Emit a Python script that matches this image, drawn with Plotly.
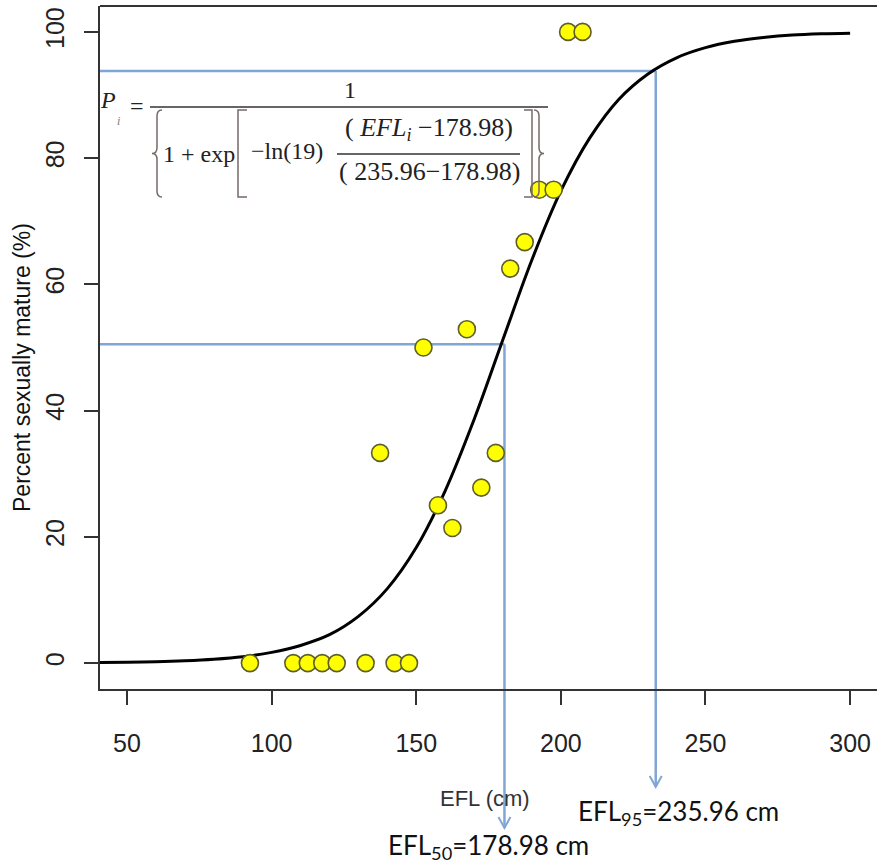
import plotly.graph_objects as go

# ---------------- data ----------------
efl_points = [92.5, 107.5, 112.5, 117.5, 122.5, 132.5, 137.5, 142.5, 147.5, 152.5,
              157.5, 162.5, 167.5, 172.5, 177.5, 182.5, 187.5, 192.5, 197.5, 202.5, 207.5]
pct_mature = [0, 0, 0, 0, 0, 0, 33.3, 0, 0, 50,
              25, 21.4, 52.9, 27.8, 33.3, 62.5, 66.7, 75, 75, 100, 100]

curve_efl = [40, 50, 60, 70, 80, 90, 100, 110, 120, 130, 140, 150, 160, 170, 180,
             190, 200, 210, 220, 230, 240, 250, 260, 270, 280, 290, 300]
curve_pct = [0.08, 0.13, 0.21, 0.36, 0.6, 1.0, 1.7, 2.8, 4.5, 7.4, 11.8, 18.3, 27.3, 38.6, 51.3,
             63.9, 74.8, 83.2, 89.3, 93.3, 95.9, 97.5, 98.5, 99.1, 99.5, 99.7, 99.8]

x_ticks = [50, 100, 150, 200, 250, 300]
y_ticks = [0, 20, 40, 60, 80, 100]

guide_x = [180.5, 232.8]     # where the guide lines drop from the curve
guide_y = [50.5, 93.8]
label_50 = "EFL<sub>50</sub>=178.98 cm"
label_95 = "EFL<sub>95</sub>=235.96 cm"

X_RANGE = [40.66, 309.3]
Y_RANGE = [-4.1, 104.1]

# ---------------- layout helpers ----------------
W, H = 877, 865
ML, MR, MT, MB = 100, 0, 6, 176
PW = W - ML - MR
PH = H - MT - MB


def PX(px):
    return (px - ML) / PW


def PY(py):
    return (H - MB - py) / PH


def DX(v):
    return (v - X_RANGE[0]) / (X_RANGE[1] - X_RANGE[0])


def DY(v):
    return (v - Y_RANGE[0]) / (Y_RANGE[1] - Y_RANGE[0])


def path_px(cmds):
    out = []
    for c in cmds:
        if isinstance(c, str):
            out.append(c)
        else:
            out.append(f"{PX(c[0]):.5f},{PY(c[1]):.5f}")
    return " ".join(out)


fig = go.Figure()

fig.add_trace(go.Scatter(x=curve_efl, y=curve_pct, mode="lines",
                         line=dict(color="black", width=3, shape="spline"),
                         hoverinfo="skip"))
fig.add_trace(go.Scatter(x=efl_points, y=pct_mature, mode="markers",
                         marker=dict(size=17, color="#ffff00",
                                     line=dict(color="#5e5e2a", width=1.6)),
                         cliponaxis=False))

shapes = []
BLUE = "#80a6d6"
tips = [828, 787]
for gx, gy, tip in zip(guide_x, guide_y, tips):
    shapes.append(dict(type="line", xref="paper", yref="paper", layer="below",
                       x0=0, x1=DX(gx), y0=DY(gy), y1=DY(gy),
                       line=dict(color=BLUE, width=2.5)))
    shapes.append(dict(type="line", xref="paper", yref="paper", layer="below",
                       x0=DX(gx), x1=DX(gx), y0=DY(gy), y1=PY(tip),
                       line=dict(color=BLUE, width=2.5)))
    tx = ML + DX(gx) * PW
    shapes.append(dict(type="path", xref="paper", yref="paper", layer="below",
                       path=path_px(["M", (tx - 6, tip - 11), "L", (tx, tip), "L", (tx + 6, tip - 11)]),
                       line=dict(color=BLUE, width=2)))

# top frame line
shapes.append(dict(type="line", xref="paper", yref="paper", x0=0, x1=1, y0=1, y1=1,
                   line=dict(color="#333333", width=2)))

# equation bars and brackets
EQ = "#333333"
BR = "#776868"
shapes.append(dict(type="line", xref="paper", yref="paper",
                   x0=PX(150), x1=PX(548), y0=PY(107), y1=PY(107), line=dict(color=EQ, width=1.6)))
shapes.append(dict(type="line", xref="paper", yref="paper",
                   x0=PX(337), x1=PX(520), y0=PY(154), y1=PY(154), line=dict(color=EQ, width=1.4)))
top, bot, mid = 110, 197, 153.5
shapes.append(dict(type="path", xref="paper", yref="paper", line=dict(color=BR, width=1.5),
                   path=path_px(["M", (162, top), "Q", (157, top), (157, top + 6), "L", (157, mid - 6),
                                 "Q", (157, mid), (152, mid), "Q", (157, mid), (157, mid + 6),
                                 "L", (157, bot - 6), "Q", (157, bot), (162, bot)])))
shapes.append(dict(type="path", xref="paper", yref="paper", line=dict(color=BR, width=1.5),
                   path=path_px(["M", (534, top), "Q", (539, top), (539, top + 6), "L", (539, mid - 6),
                                 "Q", (539, mid), (544, mid), "Q", (539, mid), (539, mid + 6),
                                 "L", (539, bot - 6), "Q", (539, bot), (534, bot)])))
shapes.append(dict(type="path", xref="paper", yref="paper", line=dict(color=BR, width=1.5),
                   path=path_px(["M", (247, top), "L", (238, top), "L", (238, bot), "L", (247, bot)])))
shapes.append(dict(type="path", xref="paper", yref="paper", line=dict(color=BR, width=1.5),
                   path=path_px(["M", (524, top), "L", (532, top), "L", (532, bot), "L", (524, bot)])))

SERIF = "Liberation Serif"
ann = []


def txt(text, x, y, size, family=SERIF, color="#222222", angle=0):
    ann.append(dict(text=text, x=PX(x), y=PY(y), xref="paper", yref="paper",
                    showarrow=False, xanchor="center", yanchor="middle",
                    textangle=angle, font=dict(family=family, size=size, color=color)))


txt("<i>P</i>", 108, 100, 24)
txt("<i>i</i>", 118, 121, 12, color="#8a7a7a")
txt("=", 137, 106, 24)
txt("1", 350, 90, 24)
txt("1 + exp", 199, 154, 24)
txt("−ln(19)", 287, 151, 24)
txt("( <i>EFL</i><sub><i>i</i></sub> −178.98)", 429, 129, 26)
txt("( 235.96−178.98)", 429, 172, 26)

txt("EFL (cm)", 485, 798, 22, family="Liberation Sans", color="#333333")
txt(label_50, 488, 846, 26, family="Lato", color="#111111")
txt(label_95, 678, 812, 26, family="Lato", color="#111111")
txt("Percent sexually mature (%)", 22, 368, 23, family="Liberation Sans", color="#111111", angle=-90)

fig.update_layout(
    width=W, height=H,
    margin=dict(l=ML, r=MR, t=MT, b=MB),
    paper_bgcolor="white", plot_bgcolor="rgba(0,0,0,0)",
    showlegend=False,
    shapes=shapes, annotations=ann,
    xaxis=dict(range=X_RANGE, tickvals=x_ticks, showgrid=False, zeroline=False,
               showline=True, linecolor="#333333", linewidth=2,
               ticks="outside", ticklen=14, tickwidth=2, tickcolor="#333333",
               ticklabelstandoff=17,
               tickfont=dict(family="Liberation Sans", size=25, color="#222222")),
    yaxis=dict(range=Y_RANGE, tickvals=y_ticks, showgrid=False, zeroline=False,
               showline=True, linecolor="#333333", linewidth=2,
               ticks="outside", ticklen=14, tickwidth=2, tickcolor="#333333",
               tickangle=-90, ticklabelstandoff=10,
               tickfont=dict(family="Liberation Sans", size=25, color="#222222")),
)

fig.write_html("out.html")
